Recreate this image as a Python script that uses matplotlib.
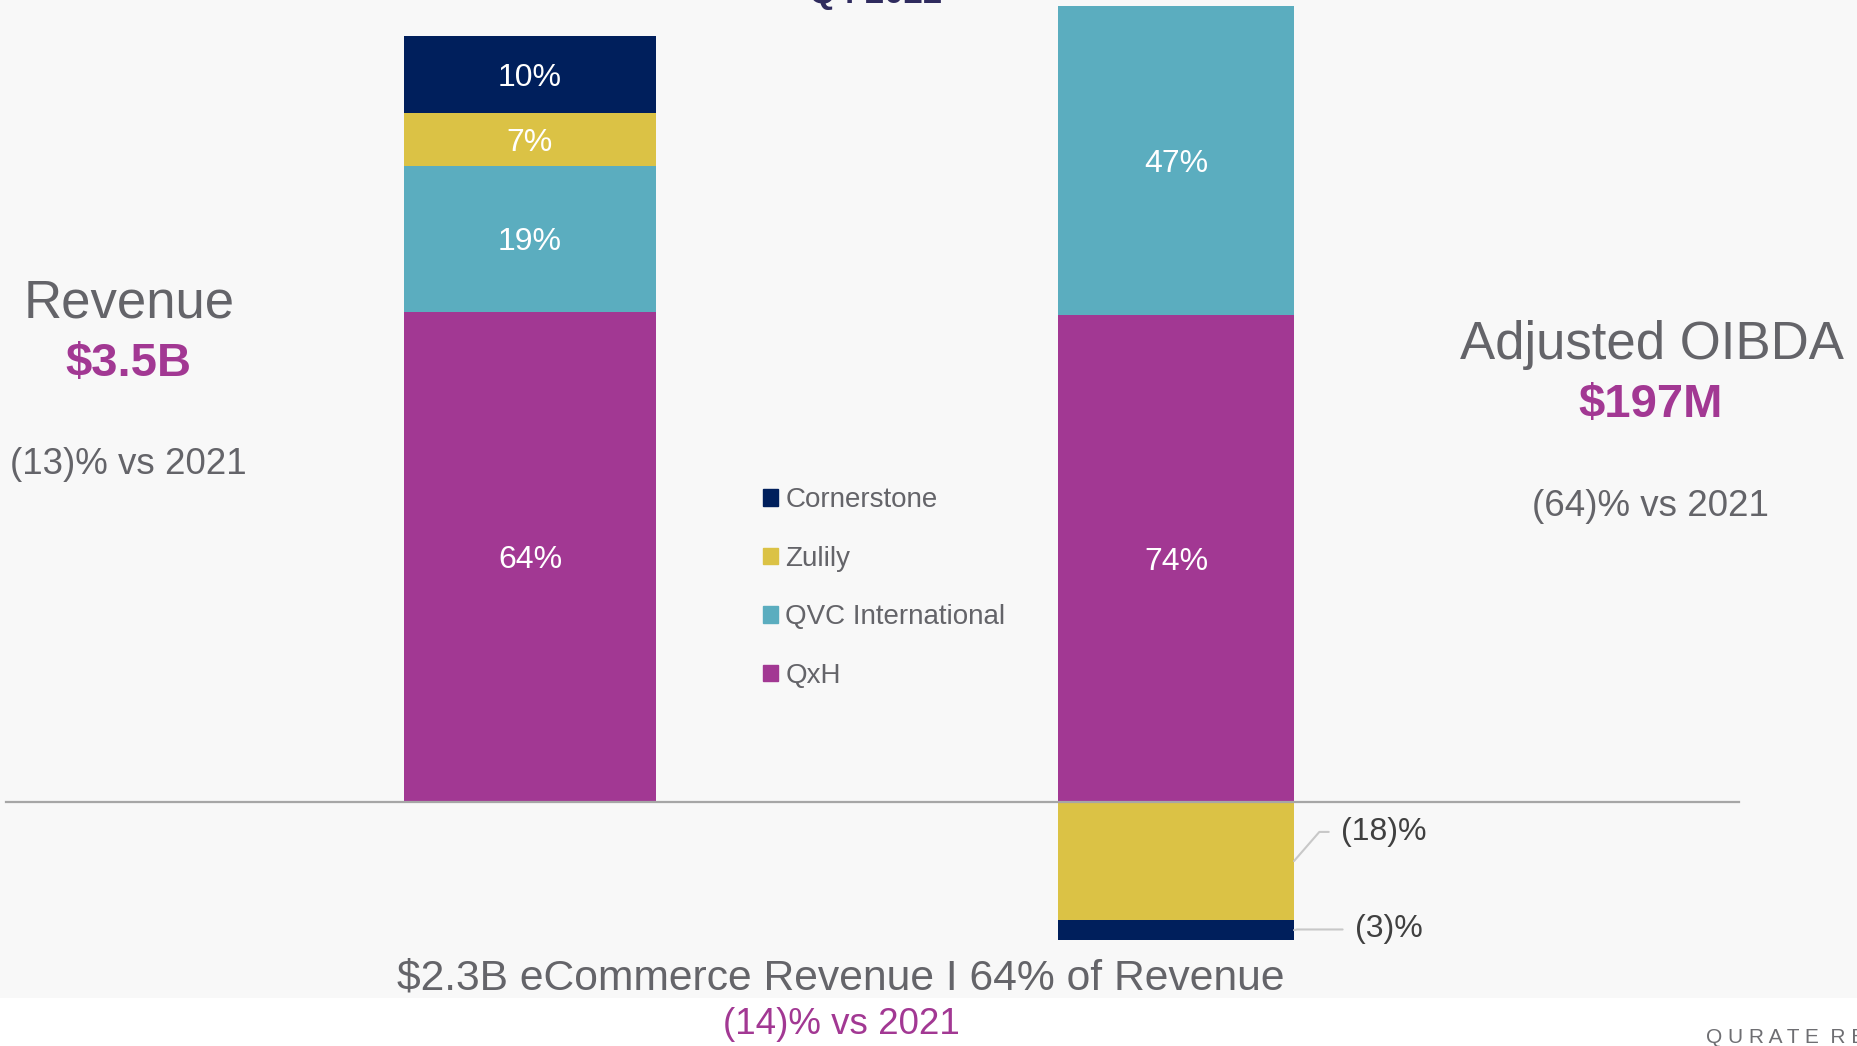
import matplotlib.pyplot as plt
import numpy as np
from matplotlib.patches import Rectangle, Patch
from matplotlib.lines import Line2D

plt.rcParams['font.family'] = ['Liberation Sans', 'DejaVu Sans']

# data (share of each segment, %)
segments = ['QxH', 'QVC International', 'Zulily', 'Cornerstone']
colors = ['#a23893', '#5badbf', '#dbc245', '#001f5c']
revenue_share = [64, 19, 7, 10]
oibda_share = [74, 47, -18, -3]

GRAY = '#646469'
MAGENTA = '#a23893'

W, H = 1857, 1046
fig = plt.figure(figsize=(W / 100, H / 100), dpi=100, facecolor='white')

# light grey slide area
fig.add_artist(Rectangle((0, 48 / H), 1, 1, transform=fig.transFigure,
                         facecolor='#f8f8f8', edgecolor='none', zorder=0))


def stacked(ax, values):
    pos, neg = 0, 0
    mids = []
    for v, c in zip(values, colors):
        if v >= 0:
            ax.bar(0, v, bottom=pos, width=1.0, color=c)
            mids.append(pos + v / 2)
            pos += v
        else:
            ax.bar(0, v, bottom=neg, width=1.0, color=c)
            mids.append(neg + v / 2)
            neg += v
    ax.set_xlim(-0.5, 0.5)
    ax.set_ylim(neg, pos)
    ax.axis('off')
    return mids


# revenue bar
ax1 = fig.add_axes([404 / W, 244 / H, 252 / W, 766 / H])
mids1 = stacked(ax1, revenue_share)
for v, m in zip(revenue_share, mids1):
    ax1.text(0, m, f'{v}%', ha='center', va='center_baseline', color='white', fontsize=23)

# adjusted OIBDA bar
ax2 = fig.add_axes([1058 / W, 106 / H, 236 / W, 934 / H])
mids2 = stacked(ax2, oibda_share)
for v, m in zip(oibda_share, mids2):
    if v > 0:
        ax2.text(0, m, f'{v}%', ha='center', va='center_baseline', color='white', fontsize=23)
offsets = {-18: (34, 23.5), -3: (44, 3)}
angles = {-18: 49, -3: 12}
for v, m in zip(oibda_share, mids2):
    if v < 0:
        ax2.annotate(f'({abs(v)})%', xy=(0.5, m), xytext=offsets[v],
                     textcoords='offset points', ha='left', va='center_baseline',
                     fontsize=23, color='#404040', annotation_clip=False,
                     arrowprops=dict(arrowstyle='-', color='#c8c8c8', lw=1.5,
                                     relpos=(0, 0.5), shrinkA=7, shrinkB=0,
                                     connectionstyle=f'angle,angleA=180,angleB={angles[v]},rad=0'))

# zero line
fig.add_artist(Line2D([6 / W, 1739 / W], [244 / H, 244 / H], color='#a6a6a6', lw=1.6))

# legend
handles = [Patch(color=colors[i], label=segments[i]) for i in [3, 2, 1, 0]]
fig.legend(handles=handles, loc='center left', bbox_to_anchor=(763 / W, 458 / H),
           frameon=False, fontsize=20, labelcolor=GRAY, handlelength=0.55,
           handleheight=0.55, handletextpad=0.25, labelspacing=1.17,
           borderpad=0, borderaxespad=0)

# side titles
fig.text(129 / W, 742 / H, 'Revenue', ha='center', va='center', fontsize=38, color=GRAY)
fig.text(128 / W, 682 / H, '$3.5B', ha='center', va='center', fontsize=34,
         color=MAGENTA, fontweight='bold')
fig.text(128 / W, 582 / H, '(13)% vs 2021', ha='center', va='center', fontsize=26.5, color=GRAY)

fig.text(1652 / W, 701 / H, 'Adjusted OIBDA', ha='center', va='center', fontsize=38, color=GRAY)
fig.text(1651 / W, 641 / H, '$197M', ha='center', va='center', fontsize=34,
         color=MAGENTA, fontweight='bold')
fig.text(1650 / W, 539 / H, '(64)% vs 2021', ha='center', va='center', fontsize=26.5, color=GRAY)

# bottom caption
fig.text(841 / W, 67 / H, '$2.3B eCommerce Revenue I 64% of Revenue', ha='center',
         va='center', fontsize=30.7, color=GRAY)
fig.text(841 / W, 22 / H, '(14)% vs 2021', ha='center', va='center', fontsize=26.5, color=MAGENTA)

# clipped header and footer
fig.text(876 / W, 1043 / H, 'Q4 2022', ha='center', va='baseline', fontsize=25,
         color='#2f2b5e', fontweight='bold')
fig.text(1706 / W, 3 / H, 'Q U R A T E  R E T A I L', ha='left', va='baseline',
         fontsize=15, color='#6e6e72')

fig.savefig('out.png', dpi=100, facecolor=fig.get_facecolor())
